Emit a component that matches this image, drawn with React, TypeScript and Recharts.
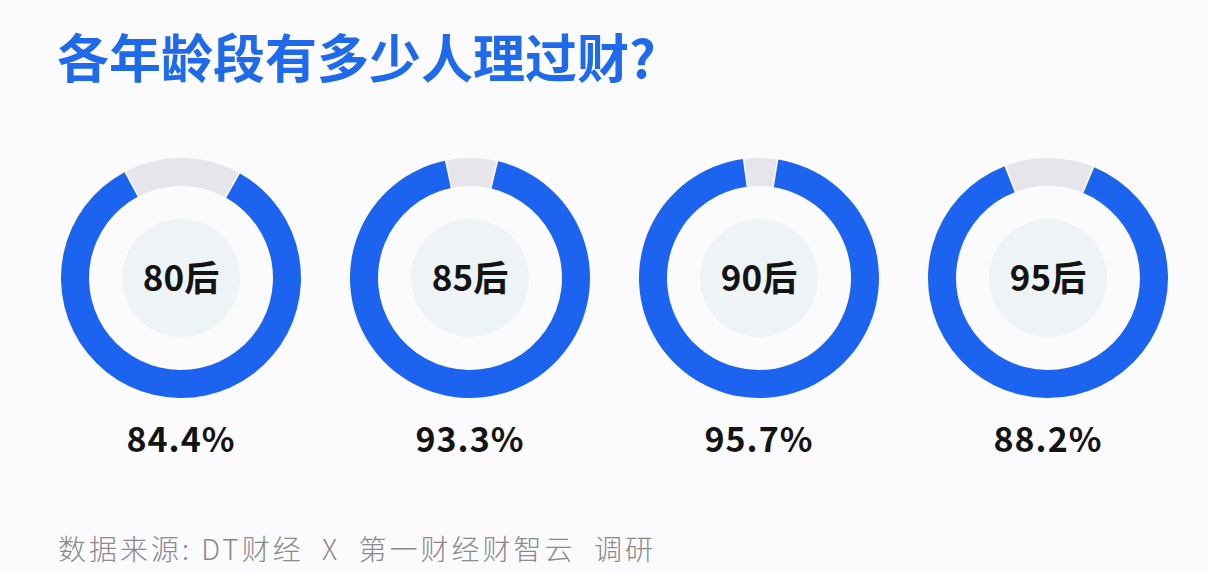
import React from 'react';
import { PieChart, Pie, Cell, Label } from 'recharts';

const groups = ['80后', '85后', '90后', '95后'];
const rates = [84.4, 93.3, 95.7, 88.2];
const rateLabels = ['84.4%', '93.3%', '95.7%', '88.2%'];
const titleText = '各年龄段有多少人理过财?';
const sourceText = '数据来源: DT财经  X  第一财经财智云  调研';

const BLUE = '#1c64f0';
const GRAY = '#e6e6ea';
const INNER = '#eef3f5';
const BG = '#fbfbfd';

const centersX = [181, 470, 759, 1048];
const CY = 278;

export default function App() {
  return (
    <div style={{ position: 'absolute', left: 0, top: 0, width: 1208, height: 574, background: BG, overflow: 'hidden' }}>
      <div
        style={{
          position: 'absolute',
          left: 57,
          top: 30,
          fontSize: 52,
          lineHeight: '52px',
          fontWeight: 700,
          color: '#1f6aea',
          fontFamily: '"Noto Sans CJK SC", sans-serif',
          whiteSpace: 'nowrap',
        }}
      >
        {titleText}
      </div>
      <PieChart width={1208} height={574} margin={{ top: 0, right: 0, bottom: 0, left: 0 }} style={{ position: 'absolute', left: 0, top: 0 }}>
        {groups.map((g, i) => {
          const rest = +(100 - rates[i]).toFixed(1);
          const grayDeg = (rest / 100) * 360;
          const start = 90 + grayDeg / 2;
          return (
            <Pie
              key={'ring' + i}
              data={[
                { name: 'yes', value: rates[i] },
                { name: 'no', value: rest },
              ]}
              dataKey="value"
              cx={centersX[i]}
              cy={CY}
              innerRadius={92}
              outerRadius={120}
              startAngle={start}
              endAngle={start + 360}
              paddingAngle={0.8}
              stroke="none"
              isAnimationActive={false}
            >
              <Cell fill={BLUE} />
              <Cell fill={GRAY} />
            </Pie>
          );
        })}
        {groups.map((g, i) => (
          <Pie
            key={'inner' + i}
            data={[{ name: g, value: 1 }]}
            dataKey="value"
            cx={centersX[i]}
            cy={CY}
            innerRadius={0}
            outerRadius={59}
            stroke="none"
            fill={INNER}
            isAnimationActive={false}
          >
            <Label
              content={(props: any) => {
                const vb = props.viewBox || {};
                const cx = vb.cx ?? centersX[i];
                const cy = vb.cy ?? CY;
                return (
                  <g>
                    <text
                      x={cx}
                      y={cy - 3}
                      textAnchor="middle"
                      dominantBaseline="central"
                      fontSize={35}
                      fontWeight={600}
                      fill="#141414"
                      fontFamily='"Noto Sans CJK SC", sans-serif'
                    >
                      {g}
                    </text>
                    <text
                      x={cx}
                      y={cy + 174}
                      textAnchor="middle"
                      fontSize={34}
                      fontWeight={700}
                      fill="#141414"
                      letterSpacing={1}
                      fontFamily='"Noto Sans CJK SC", sans-serif'
                    >
                      {rateLabels[i]}
                    </text>
                  </g>
                );
              }}
            />
          </Pie>
        ))}
      </PieChart>
      <div
        style={{
          position: 'absolute',
          left: 58,
          top: 534,
          fontSize: 28,
          lineHeight: '28px',
          fontWeight: 300,
          letterSpacing: 3,
          color: '#8a8a8a',
          fontFamily: '"Noto Sans CJK SC", sans-serif',
          whiteSpace: 'pre',
        }}
      >
        {sourceText}
      </div>
    </div>
  );
}
